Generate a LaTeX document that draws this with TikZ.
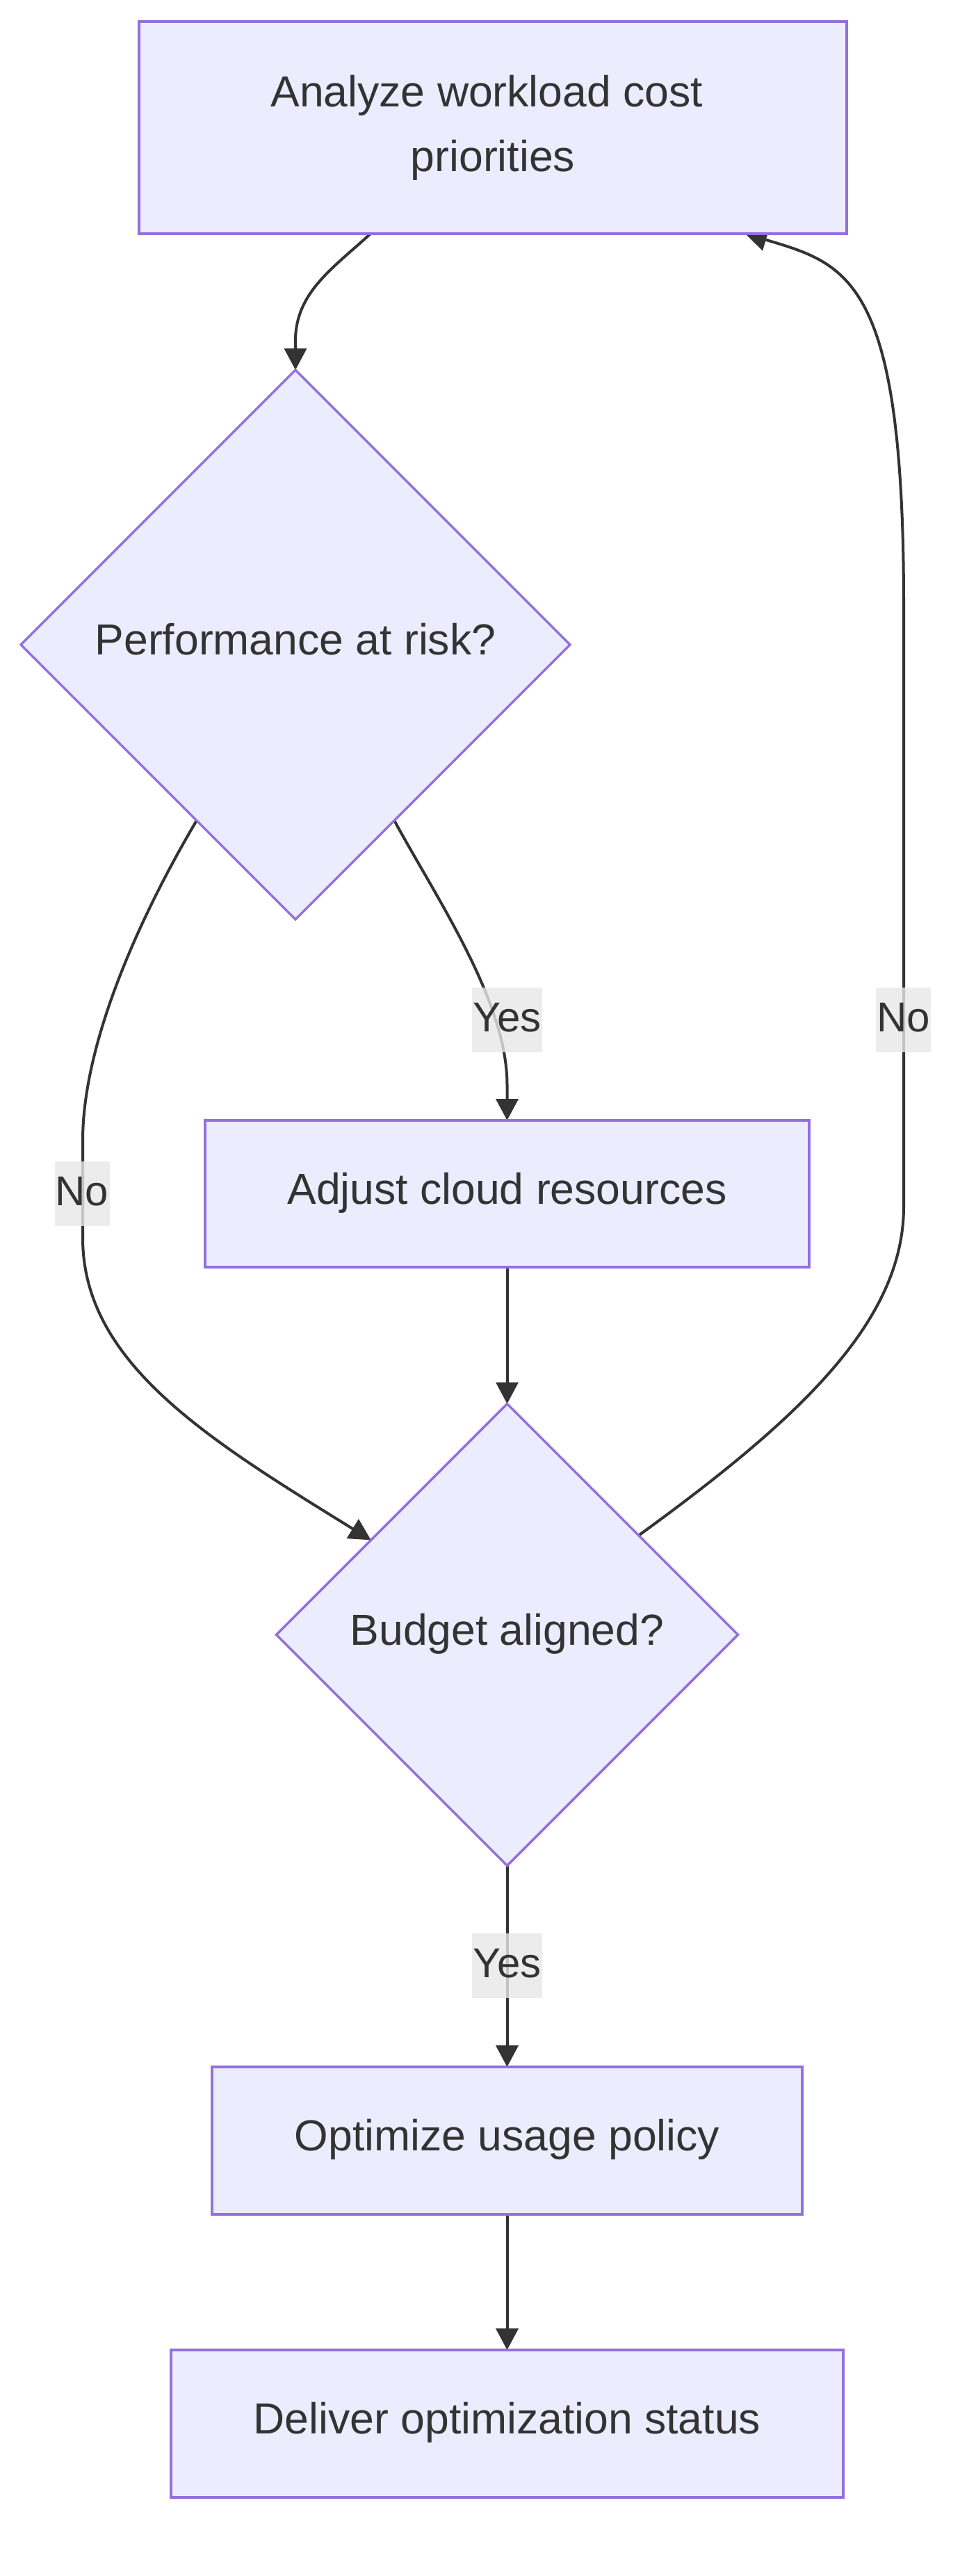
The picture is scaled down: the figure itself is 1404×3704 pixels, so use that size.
\documentclass[tikz,border=0pt]{standalone}
\usepackage{fontspec}
\setmainfont{Liberation Sans}
\usetikzlibrary{shapes.geometric,arrows.meta,calc}
\pgfdeclarelayer{bglayer}
\pgfdeclarelayer{edgelayer}
\pgfsetlayers{bglayer,edgelayer,main}
\definecolor{nodefill}{HTML}{ECECFF}
\definecolor{nodeline}{HTML}{9370DB}
\definecolor{ink}{HTML}{333333}
\definecolor{labelbg}{HTML}{E8E8E8}
\newcommand\mynodefont{\fontsize{62.5}{93}\selectfont}
\newcommand\mylabelfont{\fontsize{60}{93}\selectfont}
\tikzset{
  nodebase/.style={draw=nodeline, fill=nodefill, line width=3.5pt, inner sep=0pt, outer sep=0pt, text=ink, font=\mynodefont},
  box/.style={nodebase, rectangle, text height=62pt, text depth=33pt},
  decision/.style={nodebase, diamond, aspect=1, text height=62pt, text depth=33pt},
  elabel/.style={fill=labelbg, fill opacity=0.8, text opacity=1, text=ink, inner sep=0pt, font=\mylabelfont, text height=63pt, text depth=30pt, minimum height=93pt},
  edge/.style={draw=ink, line width=4pt, -{Triangle[length=31pt,width=32pt]}},
}
\begin{document}
\begin{tikzpicture}[x=1pt,y=-1pt]
\useasboundingbox (0,0) rectangle (1404,3704);
\begin{pgfonlayer}{bglayer}
\fill[white] (0,0) rectangle (1404,3704);
\end{pgfonlayer}

% nodes
\node[nodebase, rectangle, align=center, minimum width=1018pt, minimum height=305pt] (A) at (709,183.5) {Analyze workload cost\kern17.4pt\\priorities};
\node[decision, minimum width=790pt, minimum height=790pt] (B) at (425,927) {Performance at risk?};
\node[box, minimum width=869pt, minimum height=211pt] (C) at (729.5,1716.5) {Adjust cloud resources};
\node[decision, minimum width=664pt, minimum height=664pt] (D) at (729.5,2350.5) {Budget aligned?};
\node[box, minimum width=849pt, minimum height=212pt] (E) at (729.5,3078) {Optimize usage policy};
\node[box, minimum width=967pt, minimum height=212pt] (F) at (729.5,3485) {Deliver optimization status};

% edges
\begin{pgfonlayer}{edgelayer}
\draw[edge] ([xshift=-176pt]A.south) .. controls (480,385) and (425,420) .. (425,490) -- (B.north);
\draw[edge] ($(B.east)!0.64!(B.south)$) .. controls (630,1295) and (729.5,1440) .. (729.5,1560) -- (C.north);
\draw[edge] ($(B.west)!0.64!(B.south)$) .. controls (200,1320) and (119,1500) .. (119,1640) -- (119,1780) .. controls (119,1960) and (300,2070) .. ($(D.west)!0.41!(D.north)$);
\draw[edge] (C.south) -- (D.north);
\draw[edge] ($(D.north)!0.57!(D.east)$) .. controls (1150,2040) and (1300,1900) .. (1300,1735) -- (1300,870) .. controls (1300,400) and (1220,380) .. ([xshift=363pt]A.south);
\draw[edge] (D.south) -- (E.north);
\draw[edge] (E.south) -- (F.north);
\end{pgfonlayer}

% edge labels
\node[elabel, minimum width=101pt] (yes1) at (729.5,1466.5) {Yes};
\node[elabel, minimum width=79pt] (no1) at (118,1716.5) {No};
\node[elabel, minimum width=79pt] (no2) at (1299.5,1466.5) {No};
\node[elabel, minimum width=101pt] (yes2) at (729.5,2826.5) {Yes};
\end{tikzpicture}
\end{document}
